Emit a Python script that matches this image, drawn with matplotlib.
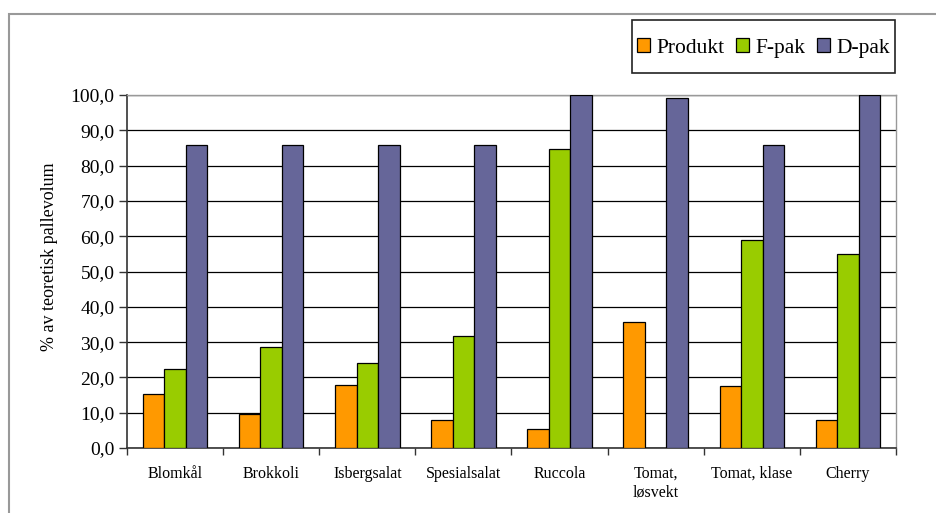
import matplotlib
matplotlib.use("Agg")
import matplotlib.pyplot as plt
from matplotlib.patches import Rectangle
import numpy as np

categories = ["Blomkål", "Brokkoli", "Isbergsalat", "Spesialsalat", "Ruccola",
              "Tomat,\nløsvekt", "Tomat, klase", "Cherry"]
produkt = [15.4, 9.5, 17.8, 7.8, 5.5, 35.6, 17.5, 8.0]
f_pak = [22.5, 28.5, 24.0, 31.6, 84.6, 0.0, 59.0, 55.0]
d_pak = [85.7, 85.7, 85.7, 85.7, 100.0, 99.1, 85.7, 100.0]
series = [("Produkt", produkt, "#FF9900"),
          ("F-pak", f_pak, "#99CC00"),
          ("D-pak", d_pak, "#666699")]
yticks = np.arange(0, 101, 10)

plt.rcParams["font.family"] = ["Liberation Serif", "DejaVu Serif"]

W, H = 936, 513
fig = plt.figure(figsize=(W / 100, H / 100), dpi=100)

# outer chart frame (runs past the right and bottom edges)
fig.patches.append(Rectangle((9 / W, -20 / H), (W + 20) / W, (H + 20 - 14) / H,
                             transform=fig.transFigure, fill=False,
                             edgecolor="#999999", linewidth=1.5, clip_on=False))

ax = fig.add_axes([127 / W, (H - 448) / H, (896 - 127) / W, (448 - 95) / H])

x = np.arange(len(categories))
bw = 0.224
for i, (name, vals, color) in enumerate(series):
    ax.bar(x + (i - 1) * bw, vals, bw, color=color, edgecolor="black",
           linewidth=0.9, label=name, zorder=3)

ax.set_xlim(-0.5, len(categories) - 0.5)
ax.set_ylim(0, 100)
ax.set_yticks(yticks)
ax.set_yticklabels([f"{v:.1f}".replace(".", ",") for v in yticks], fontsize=14)
ax.yaxis.grid(True, color="black", linewidth=0.9, zorder=0)
ax.set_axisbelow(True)

# category labels centred, ticks on category boundaries
ax.set_xticks(x)
ax.set_xticklabels(categories, fontsize=11.5, linespacing=1.2, va="top")
ax.tick_params(axis="x", length=0, pad=13)
ax.set_xticks(np.arange(-0.5, len(categories) + 0.5, 1), minor=True)
ax.tick_params(axis="x", which="minor", length=5, width=1, color="#333333")
ax.tick_params(axis="y", length=6, width=1, color="#333333", pad=3)

for side in ("left", "bottom"):
    ax.spines[side].set_color("#333333")
    ax.spines[side].set_linewidth(1.2)
for side in ("top", "right"):
    ax.spines[side].set_color("#999999")
    ax.spines[side].set_linewidth(1)

ax.set_ylabel("% av teoretisk pallevolum", fontsize=13)
ax.yaxis.set_label_coords(-(127 - 58) / (896 - 127), 0.543)

# legend box
lx0, lx1, ly0, ly1 = 632, 895, 20, 73
fig.patches.append(Rectangle((lx0 / W, 1 - ly1 / H), (lx1 - lx0) / W, (ly1 - ly0) / H,
                             transform=fig.transFigure, fill=True,
                             facecolor="white", edgecolor="#222222",
                             linewidth=1.2, zorder=5))
leg = fig.legend(loc="center", bbox_to_anchor=((lx0 + lx1) / 2 / W, 1 - 48 / H),
                 ncol=3, fontsize=15.5, frameon=False,
                 handlelength=0.6, handleheight=0.6, handletextpad=0.28,
                 columnspacing=0.55, borderpad=0.2, borderaxespad=0)
leg.set_zorder(6)

fig.savefig("out.png", dpi=100)
